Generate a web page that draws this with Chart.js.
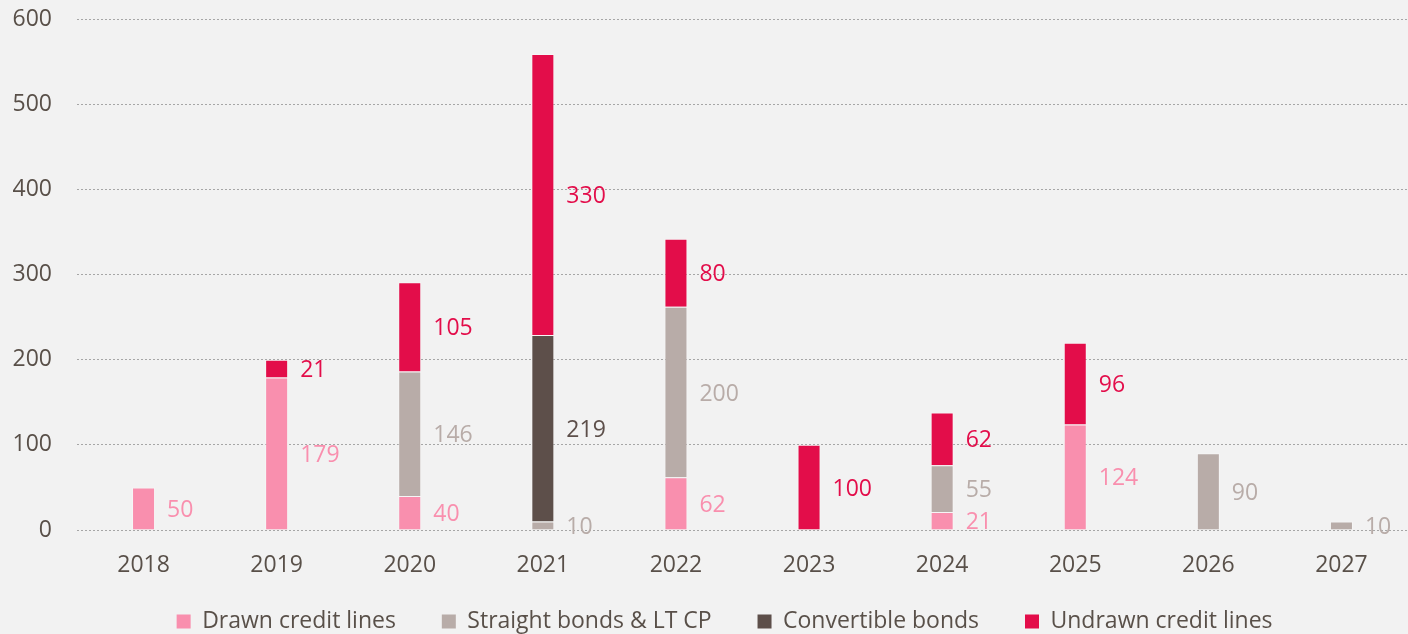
<!DOCTYPE html>
<html>
<head>
<meta charset="utf-8">
<script src="https://cdn.jsdelivr.net/npm/chart.js@4"></script>
<style>
  html, body { margin: 0; padding: 0; background: #f2f2f2; overflow: hidden; }
  #wrap { width: 1408px; height: 634px; }
</style>
</head>
<body>
<div id="wrap"><canvas id="debtChart"></canvas></div>
<script>
const years = ['2018', '2019', '2020', '2021', '2022', '2023', '2024', '2025', '2026', '2027'];
const drawnCredit = [50, 179, 40, 0, 62, 0, 21, 124, 0, 0];
const straightBonds = [0, 0, 146, 10, 200, 0, 55, 0, 90, 10];
const convertibleBonds = [0, 0, 0, 219, 0, 0, 0, 0, 0, 0];
const undrawnCredit = [0, 21, 105, 330, 80, 100, 62, 96, 0, 0];
const yTicks = [0, 100, 200, 300, 400, 500, 600];

const textColor = '#595049';
const fontFamily = '"Open Sans", "Noto Sans", sans-serif';

// etiquetas de valor a la derecha de cada segmento
const segmentLabels = {
    id: 'segmentLabels',
    afterDatasetsDraw(chart) {
        const ctx = chart.ctx;
        ctx.save();
        ctx.font = '23px ' + fontFamily;
        ctx.textAlign = 'left';
        ctx.textBaseline = 'middle';
        chart.data.datasets.forEach((ds, i) => {
            const meta = chart.getDatasetMeta(i);
            meta.data.forEach((bar, j) => {
                const v = ds.data[j];
                if (!v) return;
                ctx.fillStyle = ds.labelColor;
                ctx.fillText(String(v), bar.x + bar.width / 2 + 12, (bar.y + bar.base) / 2 + 2);
            });
        });
        ctx.restore();
    }
};

function makeSet(label, data, color) {
    return {
        label: label,
        data: data,
        backgroundColor: color,
        borderColor: 'rgba(255,255,255,0.35)',
        borderWidth: 1,
        labelColor: color,
        barPercentage: 0.173,
        categoryPercentage: 1
    };
}

new Chart(document.getElementById('debtChart').getContext('2d'), {
    type: 'bar',
    data: {
        labels: years,
        datasets: [
            makeSet('Drawn credit lines', drawnCredit, '#f98fae'),
            makeSet('Straight bonds & LT CP', straightBonds, '#b8aca8'),
            makeSet('Convertible bonds', convertibleBonds, '#5d4f4a'),
            makeSet('Undrawn credit lines', undrawnCredit, '#e30d4a')
        ]
    },
    options: {
        responsive: true,
        maintainAspectRatio: false,
        animation: false,
        layout: { padding: { top: 19, right: 0, left: 0, bottom: -9 } },
        scales: {
            x: {
                stacked: true,
                afterFit(scale) { scale.height = 52; },
                grid: { display: false, drawTicks: false },
                border: { display: false },
                ticks: { color: textColor, font: { family: fontFamily, size: 23 }, padding: 22 }
            },
            y: {
                stacked: true,
                min: 0,
                max: 600,
                afterBuildTicks(scale) { scale.ticks = yTicks.map(v => ({ value: v })); },
                afterFit(scale) { scale.width = 77; },
                grid: { color: '#a6a6a6', lineWidth: 1, drawTicks: true, tickLength: 25, tickColor: 'rgba(0,0,0,0)' },
                border: { display: false, dash: [2, 2] },
                ticks: { color: textColor, font: { family: fontFamily, size: 23 }, padding: 0 }
            }
        },
        plugins: {
            legend: {
                position: 'bottom',
                fullSize: false,
                labels: {
                    color: textColor,
                    font: { family: fontFamily, size: 23 },
                    boxWidth: 14,
                    boxHeight: 14,
                    padding: 28,
                    generateLabels(chart) {
                        const items = Chart.defaults.plugins.legend.labels.generateLabels(chart);
                        items.forEach((it, k) => {
                            it.lineWidth = 0;
                            it.text = it.text + (k < items.length - 1 ? '   ' : '      ');
                        });
                        return items;
                    }
                }
            },
            tooltip: { enabled: false }
        }
    },
    plugins: [segmentLabels]
});
</script>
</body>
</html>
